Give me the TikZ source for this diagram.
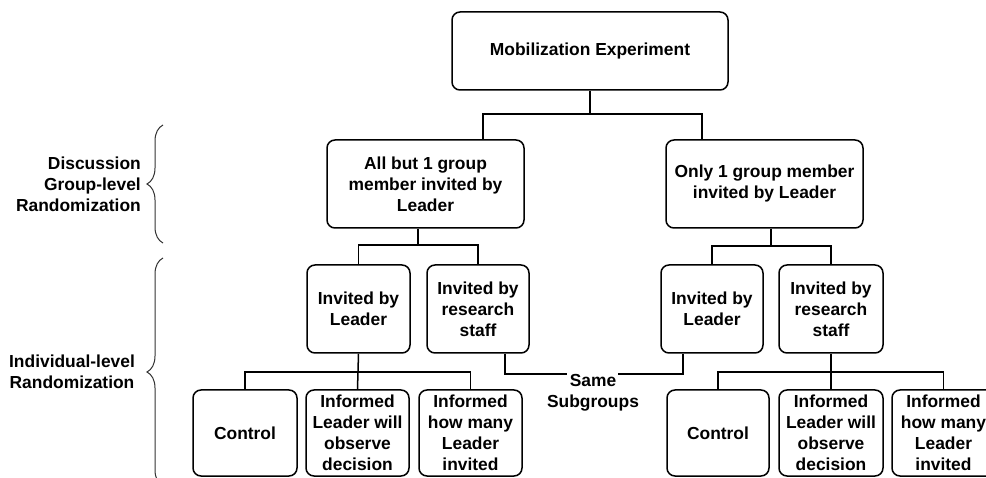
\documentclass[tikz,border=0pt]{standalone}
\usepackage{fontspec}
\setmainfont{Liberation Sans}
\usetikzlibrary{decorations.pathreplacing}
\begin{document}
\begin{tikzpicture}[x=1pt,y=-1pt,
  every node/.style={font=\bfseries\fontsize{17.4}{21}\selectfont, align=center, inner sep=0pt},
  box/.style={draw, line width=1.5pt, rounded corners=8pt, minimum height=#1},
  box/.default=88,
  link/.style={line width=1.5pt},
  brc/.style={line width=1pt, black!80, decorate, decoration={brace, amplitude=16pt}}]
\useasboundingbox (0,0) rectangle (986,478);
\clip (0,0) rectangle (986,478);
% boxes
\node[box=78, minimum width=276] (top) at (590,51) {Mobilization Experiment};
\node[box, minimum width=197] (A) at (425.5,184) {All but 1 group\\member invited by\\Leader};
\node[box, minimum width=197] (B) at (764.5,184) {Only 1 group member\\invited by Leader};
\node[box, minimum width=103] (L1) at (358.5,309) {Invited by\\Leader};
\node[box, minimum width=102] (L2) at (478,309) {Invited by\\research\\staff};
\node[box, minimum width=102] (R1) at (712,309) {Invited by\\Leader};
\node[box, minimum width=104] (R2) at (831,309) {Invited by\\research\\staff};
\node[box=86, minimum width=104] (LC) at (245,433) {Control};
\node[box=86, minimum width=103] (LI) at (357.5,433) {Informed\\Leader will\\observe\\decision};
\node[box=86, minimum width=103] (LH) at (470.5,433) {Informed\\how many\\Leader\\invited};
\node[box=86, minimum width=102] (RC) at (718,433) {Control};
\node[box=86, minimum width=104] (RI) at (831,433) {Informed\\Leader will\\observe\\decision};
\node[box=86, minimum width=103] (RH) at (943.5,433) {Informed\\how many\\Leader\\invited};
% labels
\node[align=right, anchor=east] (g1) at (141,184) {Discussion\\Group-level\\Randomization};
\node[align=center] (g2) at (72,372) {Individual-level\\Randomization};
\node (same) at (593,393) {Same\\Subgroups};
% junction coordinates
\coordinate (jA) at (483,114);
\coordinate (jB) at (702,114);
\coordinate (aA) at (418,245);
\coordinate (aB) at (771,246);
\coordinate (bL) at (358.5,372);
\coordinate (bR) at (831,372);
\coordinate (s1) at (505,374);
\coordinate (s2) at (567,374);
\coordinate (s3) at (618,374);
\coordinate (s4) at (683,374);
% connectors
\draw[link] (top.south) -- (top.south |- jA);
\draw[link] (A.north -| jA) |- (jB) -- (B.north -| jB);
\draw[link] (A.south -| aA) -- (aA);
\draw[link] (L1.north) |- (aA) -| (L2.north);
\draw[link] (B.south -| aB) -- (aB);
\draw[link] (R1.north) |- (aB) -| (R2.north);
\draw[link] (L1.south) -- (LI.north);
\draw[link] (LC.north) |- (bL) -| (LH.north);
\draw[link] (R2.south) -- (RI.north);
\draw[link] (RC.north) |- (bR) -| (RH.north);
\draw[link] (L2.south -| s1) |- (s2);
\draw[link] (s3) -| (R1.south -| s4);
% braces
\draw[brc] (163,243) -- (163,125);
\draw[brc] (163,486) -- (163,258);
\end{tikzpicture}
\end{document}
